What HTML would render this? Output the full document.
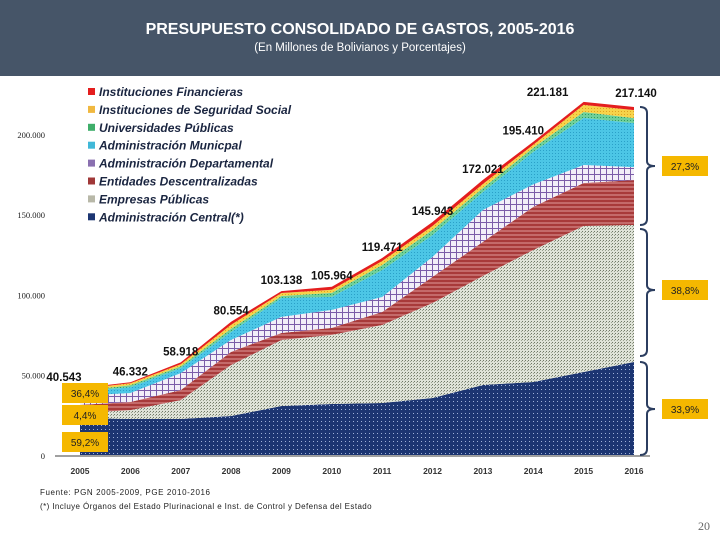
<!DOCTYPE html>
<html><head><meta charset="utf-8">
<style>
html,body{margin:0;padding:0;background:#fff;}
body{width:720px;height:540px;position:relative;overflow:hidden;font-family:"Liberation Sans",sans-serif;}
#hdr{position:absolute;left:0;top:0;width:720px;height:76px;background:#465568;}
#hdr .t{position:absolute;top:21px;width:720px;text-align:center;color:#fff;font-size:16px;font-weight:bold;}
#hdr .s{position:absolute;top:42px;width:720px;text-align:center;color:#fff;font-size:11.5px;}
</style></head><body>
<div id="hdr">
<div class="t">PRESUPUESTO CONSOLIDADO DE GASTOS, 2005-2016</div>
<div class="s">(En Millones de Bolivianos y Porcentajes)</div>
</div>
<svg id="chart" width="720" height="540" style="position:absolute;left:0;top:0">
<defs>
<pattern id="pC" width="4" height="4" patternUnits="userSpaceOnUse"><rect width="4" height="4" fill="#1c3572"/><rect x="1" y="1" width="1" height="1" fill="#9fb0d8"/></pattern>
<pattern id="pE" width="3" height="3" patternUnits="userSpaceOnUse"><rect width="3" height="3" fill="#dfe3d8"/><rect x="0" y="0" width="1" height="1" fill="#6f7866"/><rect x="2" y="1" width="1" height="1" fill="#9aa290"/></pattern>
<pattern id="pEnt" width="4" height="4" patternUnits="userSpaceOnUse"><rect width="4" height="4" fill="#c46a6a"/><rect y="0" width="4" height="2" fill="#a83a3a"/></pattern>
<pattern id="pD" width="6" height="6" patternUnits="userSpaceOnUse"><rect width="6" height="6" fill="#f2eef8"/><rect x="0" width="1" height="6" fill="#7b5ca8"/><rect y="0" width="6" height="1" fill="#7b5ca8"/></pattern>
<pattern id="pM" width="3" height="3" patternUnits="userSpaceOnUse"><rect width="3" height="3" fill="#4cc6e6"/><rect width="1" height="1" fill="#2aa0c8"/></pattern>
<pattern id="pU" width="3" height="3" patternUnits="userSpaceOnUse"><rect width="3" height="3" fill="#6fd09a"/><rect width="1" height="1" fill="#2e9a60"/></pattern>
<pattern id="pS" width="3" height="3" patternUnits="userSpaceOnUse"><rect width="3" height="3" fill="#f7d34a"/><rect width="1" height="1" fill="#e0a020"/></pattern>
</defs>
<g id="areas"></g><g id="axes"></g><g id="labels"></g><g id="legend"></g>
</svg>
<script>
const years=[2005,2006,2007,2008,2009,2010,2011,2012,2013,2014,2015,2016];
const totalLabels=["40.543","46.332","58.918","80.554","103.138","105.964","119.471","145.943","172.021","195.410","221.181","217.140"];
const central=[23.7,23.0,23.0,24.9,31.1,32.4,33.0,36.1,44.2,46.1,52.3,58.5];
const empresas=[3.1,5.6,11.8,31.8,41.1,43.0,48.6,59.2,67.9,82.2,90.9,85.3];
const entidades=[5.0,5.0,6.2,8.1,4.4,4.4,8.1,16.2,21.2,26.8,26.8,28.0];
const departamental=[5.6,5.6,10.6,7.5,10.0,11.2,9.3,12.5,19.9,14.0,11.2,8.1];
const municipal=[2.5,3.7,3.1,5.0,11.8,8.1,16.8,13.6,11.2,20.3,29.3,27.4];
const universidades=[0.6,1.2,1.2,1.9,1.2,2.5,3.1,3.1,2.5,2.5,3.7,3.1];
const seguridad=[1.2,1.2,1.2,2.5,1.9,1.9,2.5,2.5,2.5,1.9,4.4,5.0];
const financieras=[0.6,0.6,1.2,1.9,1.2,1.9,1.9,2.5,2.5,1.9,1.9,1.9];
const yTicks=[0,50000,100000,150000,200000];
const yTickLabels=["0","50.000","100.000","150.000","200.000"];
const seriesNames=["Instituciones Financieras","Instituciones de Seguridad Social","Universidades Públicas","Administración Municpal","Administración Departamental","Entidades Descentralizadas","Empresas Públicas","Administración Central(*)"];

const NS="http://www.w3.org/2000/svg";
function x(i){return 80+i*(634-80)/11;}
function y(vk){return 456-vk*80.3/50;}
function mk(tag,attrs,parent){const e=document.createElementNS(NS,tag);for(const k in attrs)e.setAttribute(k,attrs[k]);parent.appendChild(e);return e;}
const series=[
 {d:central,f:"url(#pC)",n:"area-administracion-central"},
 {d:empresas,f:"url(#pE)",n:"area-empresas-publicas"},
 {d:entidades,f:"url(#pEnt)",n:"area-entidades-descentralizadas"},
 {d:departamental,f:"url(#pD)",n:"area-administracion-departamental"},
 {d:municipal,f:"url(#pM)",n:"area-administracion-municipal"},
 {d:universidades,f:"url(#pU)",n:"area-universidades-publicas"},
 {d:seguridad,f:"url(#pS)",n:"area-seguridad-social"},
 {d:financieras,f:"#e41e1e",n:"area-instituciones-financieras"}];
const ga=document.getElementById('areas');
let base=years.map(()=>0);
series.forEach(s=>{
 const top=base.map((b,i)=>b+s.d[i]);
 let p="M"+years.map((_,i)=>x(i)+","+y(top[i])).join("L");
 for(let i=years.length-1;i>=0;i--)p+="L"+x(i)+","+y(base[i]);
 const el=mk('path',{d:p+"Z",fill:s.f},ga);
 
 
 base=top;
});
const totals=base;
const gx=document.getElementById('axes');
const axl=mk('line',{x1:55,x2:650,y1:456,y2:456,stroke:"#a0a0a0","stroke-width":2},gx);


yTicks.forEach((t,i)=>{
 const e=mk('text',{x:45,y:y(t/1000)+3,"text-anchor":"end","font-family":"Liberation Serif, serif","font-size":8.5,fill:"#222"},gx);
 e.textContent=yTickLabels[i];
 
 
});
years.forEach((yr,i)=>{
 const e=mk('text',{x:x(i),y:474,"text-anchor":"middle","font-size":8.5,"font-weight":"bold",fill:"#333"},gx);
 e.textContent=yr;
 
 
});
const gl=document.getElementById('labels');
years.forEach((yr,i)=>{
 const dx=i==0?-16:i==10?-36:i==9?-10:i==11?2:0;
 const dy=i==11?-10:i==10?-6:-7;
 const e=mk('text',{x:x(i)+dx,y:y(totals[i])+dy,"text-anchor":"middle","font-size":11.5,"font-weight":"bold",fill:"#111"},gl);
 e.textContent=totalLabels[i];
 
 
});
const lg=document.getElementById('legend');
const swatch=["#e41e1e","#f0b840","#3fae6a","#40b8d8","#8a70b0","#a03838","#b8b8a8","#1c3572"];
seriesNames.forEach((n,i)=>{
 const yy=96+i*17.9;
 const r=mk('rect',{x:88,y:yy-8,width:7,height:7,fill:swatch[i]},lg);
 
 
 const t=mk('text',{x:99,y:yy,"font-size":12,"font-weight":"bold","font-style":"italic",fill:"#1a2540"},lg);
 t.textContent=n;
 
 
});
const boxes=[[62,383,"36,4%"],[62,405,"4,4%"],[62,432,"59,2%"],[662,156,"27,3%"],[662,280,"38,8%"],[662,399,"33,9%"]];
boxes.forEach(b=>{
 const r=mk('rect',{x:b[0],y:b[1],width:46,height:20,fill:"#f5b800"},gl);
 
 
 const t=mk('text',{x:b[0]+23,y:b[1]+14,"text-anchor":"middle","font-size":10,fill:"#222"},gl);
 t.textContent=b[2];
 
 
});
[[107,225,166],[229,356,290],[362,455,409]].forEach(b=>{
 const p=`M640,${b[0]} Q647,${b[0]} 647,${b[0]+6} L647,${b[2]-5} Q647,${b[2]} 655,${b[2]} Q647,${b[2]} 647,${b[2]+5} L647,${b[1]-6} Q647,${b[1]} 640,${b[1]}`;
 const e=mk('path',{d:p,fill:"none",stroke:"#2c3e60","stroke-width":2},gl);
 
 
});
</script>
<div style="position:absolute;left:40px;top:488px;font-size:8px;letter-spacing:0.6px;color:#222;">Fuente: PGN 2005-2009, PGE 2010-2016</div>
<div style="position:absolute;left:40px;top:502px;font-size:8px;letter-spacing:0.4px;color:#222;">(*) Incluye Órganos del Estado Plurinacional e Inst. de Control y Defensa del Estado</div>
<div style="position:absolute;left:698px;top:519px;font-family:'Liberation Serif',serif;font-size:12px;color:#666;">20</div>
</body></html>
